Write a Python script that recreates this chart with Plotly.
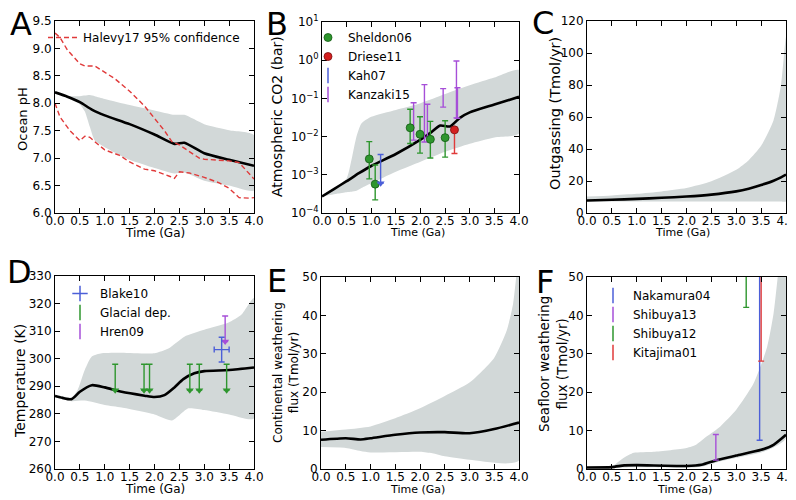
import plotly.graph_objects as go

# page is shown with an 8px body margin; figure size shrinks accordingly
OFF = 8
W, H = 796 - OFF, 500 - OFF
FONT = "DejaVu Sans"
BAND = "#d2d8d8"
GREEN = "#2e962e"
RED = "#e03a3a"
BLUE = "#4c5fd8"
PURPLE = "#a64fd8"

# ---------------- Panel A: ocean pH ----------------
A_t = [0, 0.25, 0.5, 0.75, 1.0, 1.5, 2.0, 2.4, 2.6, 3.0, 3.5, 4.0]
A_ph = [8.20, 8.12, 8.02, 7.88, 7.78, 7.62, 7.43, 7.26, 7.28, 7.09, 6.97, 6.86]
A_band_t = [0, 0.25, 0.5, 0.6, 0.7, 0.8, 1.0, 1.5, 2.0, 2.4, 2.6, 3.0, 3.5, 4.0]
A_up = [8.20, 8.13, 8.13, 8.14, 8.15, 8.13, 8.08, 7.97, 7.87, 7.79, 7.79, 7.62, 7.51, 7.42]
A_lo = [8.20, 8.10, 7.98, 7.85, 7.57, 7.32, 7.20, 6.97, 6.82, 6.72, 6.74, 6.59, 6.50, 6.41]
Hal_up_t = [0, 0.1, 0.25, 0.5, 0.6, 0.8, 1.2, 1.5, 1.8, 2.0, 2.2, 2.35, 2.5, 2.7, 2.9, 3.0, 3.5, 3.7, 4.0]
Hal_up = [9.28, 9.20, 8.97, 8.72, 8.68, 8.68, 8.45, 8.22, 7.95, 7.72, 7.50, 7.30, 7.24, 7.12, 7.00, 6.98, 6.95, 6.92, 6.62]
Hal_lo_t = [0, 0.1, 0.3, 0.5, 0.6, 0.7, 0.8, 1.0, 1.3, 1.5, 1.8, 2.0, 2.3, 2.4, 2.5, 2.7, 3.0, 3.3, 3.5, 3.7, 3.9, 4.0]
Hal_lo = [8.00, 7.75, 7.50, 7.32, 7.40, 7.38, 7.30, 7.15, 7.05, 6.93, 6.80, 6.77, 6.67, 6.63, 6.75, 6.73, 6.65, 6.55, 6.45, 6.28, 6.27, 6.28]

# ---------------- Panel B: atmospheric CO2 ----------------
B_t = [0, 0.25, 0.5, 0.75, 1.0, 1.5, 2.0, 2.2, 2.4, 2.6, 2.8, 3.0, 3.5, 4.0]
B_co2 = [2.7e-4, 4.3e-4, 6.8e-4, 1.1e-3, 1.7e-3, 3.5e-3, 8.3e-3, 1.25e-2, 1.95e-2, 1.85e-2, 3.1e-2, 4.3e-2, 6.9e-2, 1.1e-1]
B_band_t = [0, 0.3, 0.5, 0.6, 0.7, 0.8, 1.0, 1.5, 2.0, 2.5, 3.0, 3.5, 4.0]
B_up = [2.8e-4, 5e-4, 8e-4, 2.5e-3, 1e-2, 2.2e-2, 3.3e-2, 5e-2, 7.5e-2, 1.3e-1, 2.2e-1, 3.5e-1, 5.5e-1]
B_lo = [2.8e-4, 3.2e-4, 3.5e-4, 3.6e-4, 3.8e-4, 4.5e-4, 6e-4, 1.2e-3, 2.2e-3, 4e-3, 6.5e-3, 9.5e-3, 1.2e-2]
Sh_t = [0.96, 1.08, 1.79, 1.99, 2.20, 2.50]
Sh_v = [2.6e-3, 5.7e-4, 1.7e-2, 1.15e-2, 8.5e-3, 9.4e-3]
Sh_hi = [7.4e-3, 1.8e-3, 5.2e-2, 3.3e-2, 2.5e-2, 2.6e-2]
Sh_lo = [7.8e-4, 2.2e-4, 6.6e-3, 3.7e-3, 2.75e-3, 2.9e-3]
Dr_t = [2.69]
Dr_v = [1.5e-2]
Dr_lo = [3.6e-3]
Kah_t = [1.19]
Kah_hi = [3.4e-3]
Kah_lim = [6.0e-4]
Kz_t = [1.86, 2.08, 2.14, 2.46, 2.73, 2.75]
Kz_lo = [8.1e-3, 7.2e-3, 9.5e-3, 5.9e-2, 3.1e-2, 3.0e-2]
Kz_hi = [7.7e-2, 2.3e-1, 7.0e-2, 1.8e-1, 9.5e-1, 1.9e-1]

# ---------------- Panel C: outgassing ----------------
C_t = [0, 0.5, 1.0, 1.5, 2.0, 2.5, 3.0, 3.25, 3.5, 3.75, 3.9, 4.0]
C_out = [7.8, 8.3, 8.8, 9.5, 10.3, 11.5, 13.5, 15.2, 17.5, 20.2, 22.3, 24.0]
C_up = [10.3, 11.0, 12.0, 13.5, 15.6, 19.8, 27.0, 33.0, 42.0, 58.0, 80.0, 110.0]
C_lo = [7.2, 7.2, 7.2, 7.2, 7.2, 7.2, 7.2, 7.2, 7.2, 7.2, 7.2, 7.2]

# ---------------- Panel D: temperature ----------------
D_t = [0, 0.15, 0.33, 0.5, 0.74, 1.0, 1.34, 1.8, 2.0, 2.2, 2.4, 2.58, 2.8, 3.0, 3.5, 4.0]
D_T = [286.5, 285.8, 285.3, 288.0, 290.4, 289.6, 288.0, 286.6, 286.1, 286.8, 289.6, 292.6, 294.7, 295.5, 295.9, 296.8]
D_up_t = [0, 0.33, 0.45, 0.6, 0.74, 0.94, 1.34, 2.0, 2.28, 2.6, 3.0, 3.48, 3.75, 4.0]
D_up = [287.0, 286.0, 288.5, 296.0, 300.8, 302.0, 302.2, 302.0, 303.7, 308.0, 310.5, 313.0, 316.0, 322.0]
D_lo_t = [0, 0.33, 0.6, 1.0, 1.34, 2.0, 2.35, 2.5, 2.68, 3.0, 3.5, 4.0]
D_lo = [286.0, 284.6, 284.8, 283.2, 282.3, 279.8, 277.6, 279.5, 282.0, 281.4, 279.8, 278.3]
Gl_t = [1.21, 1.79, 1.90, 2.71, 2.90, 3.45]
Gl_top = [298.0, 298.0, 298.0, 298.0, 298.0, 298.0]
Gl_lim = [288.6, 288.6, 288.6, 288.6, 288.6, 288.6]
Bl_t = [3.35]
Bl_v = [303.3]
Bl_dy = [4.5]
Bl_dt = [0.15]
Hr_t = [3.42]
Hr_top = [315.5]
Hr_lim = [306.2]

# ---------------- Panel E: continental weathering ----------------
E_t = [0, 0.5, 0.8, 1.0, 1.5, 2.0, 2.5, 3.0, 3.5, 4.0]
E_w = [7.6, 8.0, 7.7, 8.0, 8.9, 9.5, 9.6, 9.3, 10.4, 12.1]
E_up_t = [0, 0.5, 1.0, 1.5, 2.0, 2.5, 3.0, 3.5, 3.75, 3.88, 4.0]
E_up = [9.7, 10.3, 11.1, 13.2, 15.8, 19.0, 22.5, 29.0, 36.0, 43.0, 56.0]
E_lo_t = [0, 0.5, 0.8, 1.0, 2.0, 2.25, 2.5, 3.0, 4.0]
E_lo = [5.7, 5.5, 4.7, 4.3, 4.5, 4.1, 3.3, 2.4, 2.2]

# ---------------- Panel F: seafloor weathering ----------------
F_t = [0, 0.5, 0.75, 1.0, 2.0, 2.3, 2.6, 3.0, 3.5, 3.75, 4.0]
F_w = [0.4, 0.5, 0.95, 1.0, 0.8, 1.1, 2.3, 3.5, 5.0, 6.3, 8.9]
F_lo = [0.2, 0.25, 0.4, 0.45, 0.35, 0.6, 1.7, 2.9, 4.3, 5.6, 8.0]
F_up_t = [0, 0.5, 0.74, 0.94, 1.34, 2.0, 2.2, 2.41, 2.68, 3.0, 3.35, 3.62, 3.75, 3.85, 4.0]
F_up = [0.4, 0.7, 2.9, 4.2, 4.5, 5.5, 6.4, 8.5, 11.1, 15.4, 22.3, 31.8, 40.5, 52.0, 70.0]
Nk_t, Nk_lo, Nk_hi = [3.47], [7.5], [80.0]
S13_t, S13_lo, S13_hi = [2.59], [2.3], [9.0]
S12_t, S12_lo, S12_hi = [3.2], [42.1], [80.0]
Kt_t, Kt_lo, Kt_hi = [3.5], [28.1], [80.0]

fig = go.Figure()


def band(xa, ya, tu, up, tl, lo):
    fig.add_trace(go.Scatter(
        x=list(tu) + list(tl)[::-1], y=list(up) + list(lo)[::-1],
        fill="toself", fillcolor=BAND, line=dict(width=0, shape="spline", smoothing=0.6),
        mode="lines", showlegend=False, hoverinfo="skip", xaxis=xa, yaxis=ya))


def mean(xa, ya, t, v):
    fig.add_trace(go.Scatter(x=t, y=v, mode="lines",
                             line=dict(color="black", width=2.6, shape="spline", smoothing=0.6),
                             showlegend=False, xaxis=xa, yaxis=ya))


def diff(a, b):
    return [x - y for x, y in zip(a, b)]


def vbar(xa, ya, t, lo, hi, color, marker=None):
    mk = marker if marker else dict(size=1, color="rgba(0,0,0,0)")
    fig.add_trace(go.Scatter(
        x=t, y=lo, mode="markers", marker=mk, showlegend=False,
        error_y=dict(type="data", symmetric=False, array=diff(hi, lo),
                     arrayminus=[0] * len(lo), color=color, thickness=1.4, width=3),
        xaxis=xa, yaxis=ya))


def leg(name, legend, **kw):
    fig.add_trace(go.Scatter(x=[None], y=[None], name=name, legend=legend,
                             showlegend=True, xaxis="x", yaxis="y", **kw))


def ibar(color):
    return dict(mode="markers", marker=dict(symbol="line-ns", size=11,
                                            line=dict(width=1.5, color=color), color=color))


# A
band("x", "y", A_band_t, A_up, A_band_t, A_lo)
mean("x", "y", A_t, A_ph)
for tt, vv, show in [(Hal_up_t, Hal_up, True), (Hal_lo_t, Hal_lo, False)]:
    fig.add_trace(go.Scatter(x=tt, y=vv, mode="lines", name="Halevy17 95% confidence",
                             line=dict(color=RED, width=1.4, dash="5px,3px"),
                             showlegend=show, legend="legend", xaxis="x", yaxis="y"))

# B
band("x2", "y2", B_band_t, B_up, B_band_t, B_lo)
mean("x2", "y2", B_t, B_co2)
fig.add_trace(go.Scatter(
    x=Kz_t, y=Kz_lo, mode="markers", marker=dict(size=1, color="rgba(0,0,0,0)"), showlegend=False,
    error_y=dict(type="data", symmetric=False, array=diff(Kz_hi, Kz_lo), arrayminus=[0] * len(Kz_lo),
                 color=PURPLE, thickness=1.4, width=3), xaxis="x2", yaxis="y2"))
fig.add_trace(go.Scatter(
    x=Sh_t, y=Sh_v, mode="markers",
    marker=dict(size=8, color=GREEN, line=dict(width=0.8, color="#145a14")), showlegend=False,
    error_y=dict(type="data", symmetric=False, array=diff(Sh_hi, Sh_v), arrayminus=diff(Sh_v, Sh_lo),
                 color=GREEN, thickness=1.4, width=3), xaxis="x2", yaxis="y2"))
fig.add_trace(go.Scatter(
    x=Dr_t, y=Dr_v, mode="markers",
    marker=dict(size=8, color="#d42020", line=dict(width=0.8, color="#7a1010")), showlegend=False,
    error_y=dict(type="data", symmetric=False, array=[0], arrayminus=diff(Dr_v, Dr_lo),
                 color=RED, thickness=1.4, width=3), xaxis="x2", yaxis="y2"))
vbar("x2", "y2", Kah_t, Kah_lim, Kah_hi, BLUE,
     marker=dict(symbol="triangle-down", size=7, color=BLUE))

# C
band("x3", "y3", C_t, C_up, C_t, C_lo)
mean("x3", "y3", C_t, C_out)

# D
band("x4", "y4", D_up_t, D_up, D_lo_t, D_lo)
mean("x4", "y4", D_t, D_T)
vbar("x4", "y4", Gl_t, Gl_lim, Gl_top, GREEN,
     marker=dict(symbol="triangle-down", size=7, color=GREEN))
vbar("x4", "y4", Hr_t, Hr_lim, Hr_top, PURPLE,
     marker=dict(symbol="triangle-down", size=7, color=PURPLE))
fig.add_trace(go.Scatter(
    x=Bl_t, y=Bl_v, mode="markers", marker=dict(size=1, color="rgba(0,0,0,0)"), showlegend=False,
    error_y=dict(type="data", array=Bl_dy, color=BLUE, thickness=1.4, width=3),
    error_x=dict(type="data", array=Bl_dt, color=BLUE, thickness=1.4, width=3),
    xaxis="x4", yaxis="y4"))

# E
band("x5", "y5", E_up_t, E_up, E_lo_t, E_lo)
mean("x5", "y5", E_t, E_w)

# F
band("x6", "y6", F_up_t, F_up, F_t, F_lo)
mean("x6", "y6", F_t, F_w)
vbar("x6", "y6", S13_t, S13_lo, S13_hi, PURPLE)
vbar("x6", "y6", S12_t, S12_lo, S12_hi, GREEN)
vbar("x6", "y6", Nk_t, Nk_lo, Nk_hi, BLUE)
vbar("x6", "y6", Kt_t, Kt_lo, Kt_hi, RED)

# legend entries
leg("Sheldon06", "legend2", mode="markers",
    marker=dict(size=8, color=GREEN, line=dict(width=0.8, color="#145a14")))
leg("Driese11", "legend2", mode="markers",
    marker=dict(size=8, color="#d42020", line=dict(width=0.8, color="#7a1010")))
leg("Kah07", "legend2", **ibar(BLUE))
leg("Kanzaki15", "legend2", **ibar(PURPLE))
leg("Blake10", "legend3", mode="markers",
    marker=dict(symbol="cross-thin", size=11, line=dict(width=1.5, color=BLUE)))
leg("Glacial dep.", "legend3", **ibar(GREEN))
leg("Hren09", "legend3", **ibar(PURPLE))
leg("Nakamura04", "legend4", **ibar(BLUE))
leg("Shibuya13", "legend4", **ibar(PURPLE))
leg("Shibuya12", "legend4", **ibar(GREEN))
leg("Kitajima01", "legend4", **ibar(RED))


def px(x):
    return (x - OFF) / W


def py(y):
    return 1 - (y - OFF) / H


# ---------------- layout (page pixel positions) ----------------
panels = {
    "": ((55, 254), (21, 213)),
    "2": ((322, 519), (22, 213)),
    "3": ((587, 786), (21, 213)),
    "4": ((55, 254), (276, 469)),
    "5": ((321, 519), (277, 469)),
    "6": ((587, 786), (277, 469)),
}
# y-axis titles: text, centre x, centre y, font size (page pixels)
ytitles = {
    "": ("Ocean pH", 23, 119, 13),
    "2": ("Atmospheric CO2 (bar)", 277, 117, 14),
    "3": ("Outgassing (Tmol/yr)", 555, 114, 14.5),
    "4": ("Temperature (K)", 20, 381, 14),
    "5": ("Continental weathering<br>flux (Tmol/yr)", 286, 373, 12),
    "6": ("Seafloor weathering<br>flux (Tmol/yr)", 553, 364, 13.5),
}
# x-axis titles: centre x, centre y, font size
xtitles = {
    "": (155, 233, 12), "2": (418, 233, 11), "3": (682, 232, 11),
    "4": (155, 489, 12), "5": (418, 489, 11), "6": (684, 489, 11),
}
common = dict(showline=True, linecolor="black", linewidth=1, mirror="ticks", ticks="inside",
              ticklen=5, tickcolor="black", showgrid=False, zeroline=False, automargin=False,
              tickfont=dict(family=FONT, size=12, color="black"))
layout = dict(width=W, height=H, margin=dict(l=0, r=0, t=0, b=0), template="none",
              paper_bgcolor="white", plot_bgcolor="white",
              font=dict(family=FONT, size=12, color="black"))
yranges = {"": [6.0, 9.5], "2": [-4, 1], "3": [0, 120], "4": [260, 330], "5": [0, 50], "6": [0, 50]}
ydticks = {"": 0.5, "3": 20, "4": 10, "5": 10, "6": 10}
annotations = []
for k, ((x0, x1), (y0, y1)) in panels.items():
    xa = dict(common, domain=[px(x0), px(x1)], range=[0, 4], dtick=0.5, tickformat=".1f",
              ticklabelstandoff=-3, anchor="y" + k)
    ya = dict(common, domain=[py(y1), py(y0)], range=yranges[k], anchor="x" + k)
    if k == "2":
        ya.update(type="log", tickvals=[1e-4, 1e-3, 1e-2, 1e-1, 1, 10],
                  ticktext=["10<sup>\u22124</sup>", "10<sup>\u22123</sup>", "10<sup>\u22122</sup>",
                            "10<sup>\u22121</sup>", "10<sup>0</sup>", "10<sup>1</sup>"])
    elif k == "":
        ya.update(dtick=0.5, tickformat=".1f")
    else:
        ya.update(dtick=ydticks[k])
    layout["xaxis" + k] = xa
    layout["yaxis" + k] = ya
    tx, tcx, tcy, tfs = ytitles[k]
    annotations.append(dict(text=tx, x=px(tcx), y=py(tcy), xref="paper", yref="paper",
                            xanchor="center", yanchor="middle", textangle=-90, showarrow=False,
                            font=dict(family=FONT, size=tfs, color="black")))
    xcx, xcy, xfs = xtitles[k]
    annotations.append(dict(text="Time (Ga)", x=px(xcx), y=py(xcy), xref="paper", yref="paper",
                            xanchor="center", yanchor="middle", showarrow=False,
                            font=dict(family=FONT, size=xfs, color="black")))

legfont = dict(family=FONT, size=12, color="black")
for name, (lx, ly) in {"legend": (43, 23), "legend2": (308, 23),
                       "legend3": (60, 279), "legend4": (593, 281)}.items():
    layout[name] = dict(x=px(lx), y=py(ly), xanchor="left", yanchor="top",
                        bgcolor="rgba(0,0,0,0)", font=legfont, itemwidth=30)

# panel letters: (text, left x, top of box) in page pixels
letters = [("A", 8, 9), ("B", 264, 9), ("C", 530, 8), ("D", 5, 257), ("E", 265, 266), ("F", 534, 267)]
for s, lx, ly in letters:
    annotations.append(dict(text=s, x=px(lx), y=py(ly), xref="paper", yref="paper",
                            xanchor="left", yanchor="top", height=26, valign="middle",
                            showarrow=False, font=dict(family=FONT, size=32, color="black")))
layout["annotations"] = annotations
fig.update_layout(**layout)
fig.write_html("out.html")
